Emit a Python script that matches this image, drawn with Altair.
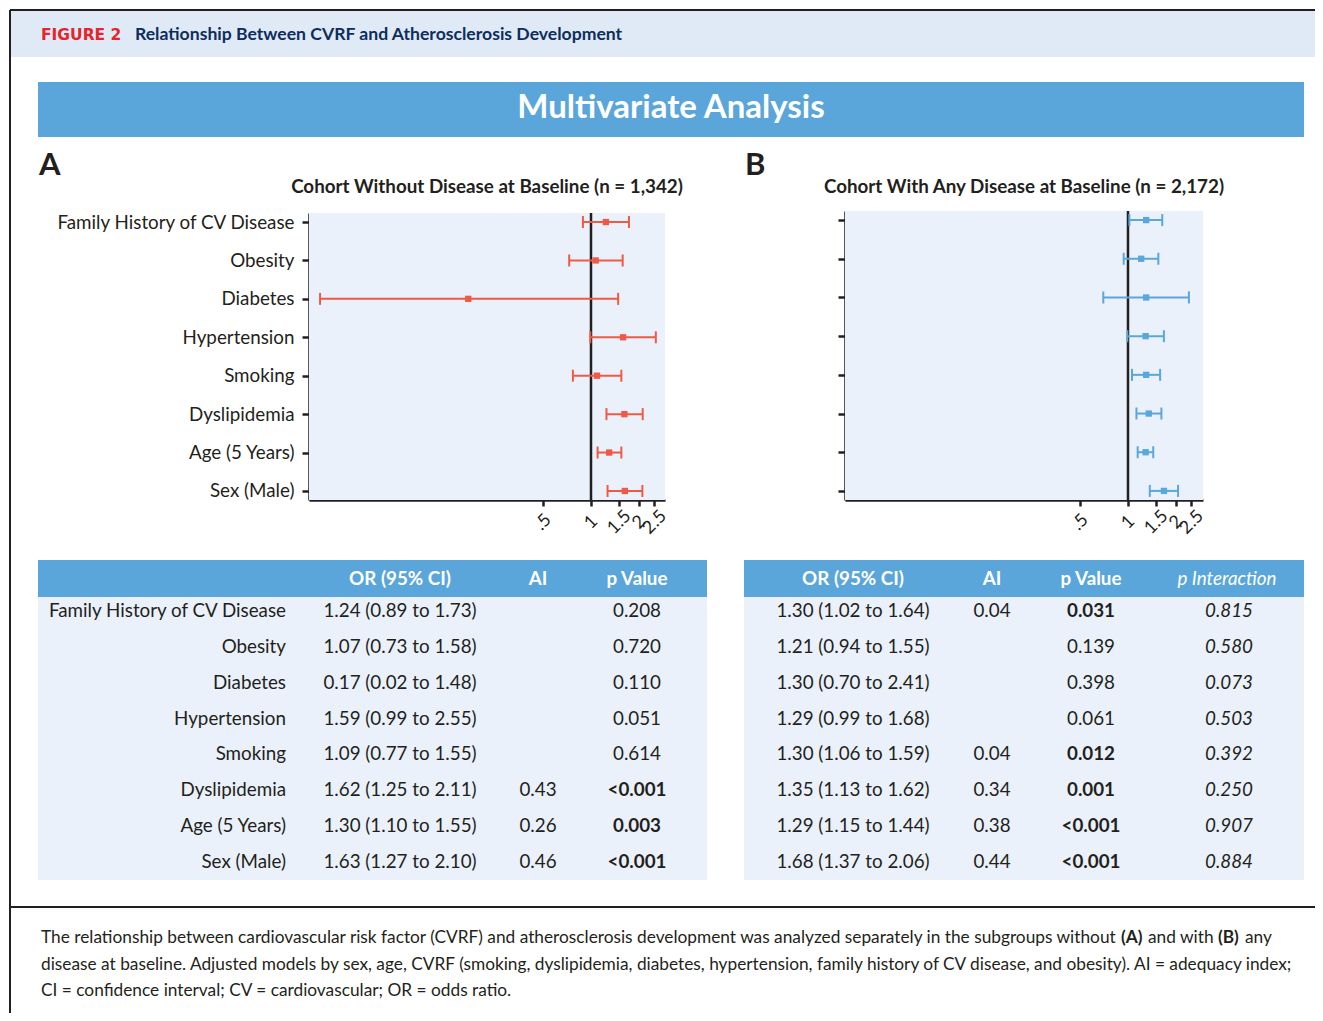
import altair as alt
import pandas as pd

# ---------------- data ----------------
factors = ["Family History of CV Disease", "Obesity", "Diabetes", "Hypertension",
           "Smoking", "Dyslipidemia", "Age (5 Years)", "Sex (Male)"]
or_a = [1.24, 1.07, 0.17, 1.59, 1.09, 1.62, 1.30, 1.63]
lo_a = [0.89, 0.73, 0.02, 0.99, 0.77, 1.25, 1.10, 1.27]
hi_a = [1.73, 1.58, 1.48, 2.55, 1.55, 2.11, 1.55, 2.10]
ai_a = ["", "", "", "", "", "0.43", "0.26", "0.46"]
p_a = ["0.208", "0.720", "0.110", "0.051", "0.614", "<0.001", "0.003", "<0.001"]

or_b = [1.30, 1.21, 1.30, 1.29, 1.30, 1.35, 1.29, 1.68]
lo_b = [1.02, 0.94, 0.70, 0.99, 1.06, 1.13, 1.15, 1.37]
hi_b = [1.64, 1.55, 2.41, 1.68, 1.59, 1.62, 1.44, 2.06]
ai_b = ["0.04", "", "", "", "0.04", "0.34", "0.38", "0.44"]
p_b = ["0.031", "0.139", "0.398", "0.061", "0.012", "0.001", "<0.001", "<0.001"]
pint_b = ["0.815", "0.580", "0.073", "0.503", "0.392", "0.250", "0.907", "0.884"]

x_ticks = [0.5, 1, 1.5, 2, 2.5]
x_tick_labels = [".5", "1", "1.5", "2", "2.5"]

fig_label = "FIGURE 2"
fig_title = "Relationship Between CVRF and Atherosclerosis Development"
banner_title = "Multivariate Analysis"
title_a = "Cohort Without Disease at Baseline (n = 1,342)"
title_b = "Cohort With Any Disease at Baseline (n = 2,172)"
head_a = ["OR (95% CI)", "AI", "p Value"]
head_b = ["OR (95% CI)", "AI", "p Value", "p Interaction"]
caption_l1 = ["The relationship between cardiovascular risk factor (CVRF) and atherosclerosis development was analyzed separately in the subgroups without",
              "(A)", "and with", "(B)", "any"]
caption_l2 = "disease at baseline. Adjusted models by sex, age, CVRF (smoking, dyslipidemia, diabetes, hypertension, family history of CV disease, and obesity). AI = adequacy index;"
caption_l3 = "CI = confidence interval; CV = cardiovascular; OR = odds ratio."

# ---------------- style ----------------
FONT = "Lato"
INK = "#231f20"
NAVY = "#0e2d5d"
FIG_RED = "#e4252b"
BANNER = "#5aa6da"
HEAD_BG = "#dfeaf6"
PLOT_BG = "#eaf1fa"
RED = "#ef5a46"
BLUE = "#5aa7dc"
W, H = 1307, 1005
LBL = 18.8

dummy = pd.DataFrame({"k": [0]})


def rect(x, x2, y, y2, color):
    return alt.Chart(dummy).mark_rect(color=color).encode(
        x=alt.value(x), x2=alt.value(x2), y=alt.value(y), y2=alt.value(y2))


def line(x, x2, y, y2, width=2, color=INK):
    return alt.Chart(dummy).mark_rule(color=color, strokeWidth=width).encode(
        x=alt.value(x), x2=alt.value(x2), y=alt.value(y), y2=alt.value(y2))


def text(s, x, y, size, color=INK, weight="normal", align="left", style="normal", font=FONT):
    return alt.Chart(pd.DataFrame({"t": [s]})).mark_text(
        align=align, baseline="middle", fontSize=size, font=font, fontWeight=weight,
        fontStyle=style, color=color).encode(text="t:N", x=alt.value(x), y=alt.value(y))


label_expr = " : ".join(f"datum.value == {v} ? '{l}'" for v, l in zip(x_ticks, x_tick_labels)) + " : ''"


def forest(lo, orv, hi, color, xdomain, xrange, yrange, show_labels):
    df = pd.DataFrame({"factor": factors, "or": orv, "lo": lo, "hi": hi})
    xs = alt.Scale(type="log", domain=xdomain, range=xrange, nice=False, zero=False)
    ys = alt.Scale(type="point", domain=factors, range=yrange, padding=0.235)
    xaxis = alt.Axis(orient="bottom", offset=yrange[1] - H, values=x_ticks, labelExpr=label_expr,
                     labelAngle=315, labelAlign="center", labelBaseline="middle",
                     labelFontSize=18, labelFont=FONT, labelColor=INK, labelPadding=16,
                     labelOverlap=False, labelFlush=False, tickSize=6, tickWidth=2.5,
                     tickColor=INK, domainWidth=2.5, domainColor=INK, grid=False, title=None)
    yaxis = alt.Axis(orient="left", offset=-xrange[0], labels=show_labels, labelFontSize=LBL,
                     labelFont=FONT, labelColor=INK, labelPadding=8, labelLimit=400,
                     tickSize=7, tickWidth=2.5, tickColor=INK, domainWidth=2.5,
                     domainColor=INK, grid=False, title=None)

    def X(f):
        return alt.X(f, scale=xs, axis=xaxis)

    Y = alt.Y("factor:N", scale=ys, axis=yaxis, sort=factors)
    base = alt.Chart(df)
    bg = alt.Chart(dummy).mark_rect(color=PLOT_BG).encode(
        x=alt.value(xrange[0]), x2=alt.value(xrange[1]),
        y=alt.value(yrange[0]), y2=alt.value(yrange[1]))
    ref = alt.Chart(pd.DataFrame({"lo": [1.0]})).mark_rule(color=INK, strokeWidth=2.5).encode(
        x=X("lo:Q"), y=alt.value(yrange[0]), y2=alt.value(yrange[1]))
    bar = base.mark_rule(color=color, strokeWidth=2).encode(x=X("lo:Q"), x2="hi:Q", y=Y)
    cap_lo = base.mark_tick(color=color, thickness=2, size=12, opacity=1).encode(x=X("lo:Q"), y=Y)
    cap_hi = base.mark_tick(color=color, thickness=2, size=12, opacity=1).encode(x=X("hi:Q"), y=Y)
    pt = base.mark_square(color=color, size=40, opacity=1).encode(x=X("or:Q"), y=Y)
    return alt.layer(bg, ref, bar, cap_lo, cap_hi, pt)


def fmt_or(o, l, h):
    return f"{o:.2f} ({l:.2f} to {h:.2f})"


def is_bold(p):
    return p.startswith("<") or float(p) < 0.05


def table(orv, lo, hi, ai, p, pint, x0, x1, cols, heads, show_factor):
    df = pd.DataFrame({"factor": factors,
                       "ortxt": [fmt_or(o, l, h) for o, l, h in zip(orv, lo, hi)],
                       "ai": ai, "p": p,
                       "bold": [is_bold(v) for v in p],
                       "pint": pint if pint else [""] * len(factors)})
    Y = alt.Y("factor:N", scale=alt.Scale(type="point", domain=factors, range=[603, 854], padding=0),
              axis=None, sort=factors)
    base = alt.Chart(df)
    layers = [rect(x0, x1, 552, 589, BANNER), rect(x0, x1, 589, 872, PLOT_BG)]
    tm = dict(baseline="middle", fontSize=LBL, font=FONT, color=INK)
    if show_factor:
        layers.append(base.mark_text(align="right", **tm).encode(text="factor:N", y=Y, x=alt.value(278)))
    layers.append(base.mark_text(align="center", **tm).encode(text="ortxt:N", y=Y, x=alt.value(cols[0])))
    layers.append(base.mark_text(align="center", **tm).encode(text="ai:N", y=Y, x=alt.value(cols[1])))
    layers.append(base.transform_filter("!datum.bold").mark_text(align="center", **tm).encode(
        text="p:N", y=Y, x=alt.value(cols[2])))
    layers.append(base.transform_filter("datum.bold").mark_text(align="center", fontWeight="bold", **tm).encode(
        text="p:N", y=Y, x=alt.value(cols[2])))
    if pint:
        layers.append(base.mark_text(align="center", fontStyle="italic", **tm).encode(
            text="pint:N", y=Y, x=alt.value(cols[3])))
    for i, h in enumerate(heads):
        italic = h.startswith("p Inter")
        layers.append(text(h, cols[i] - (2 if italic else 0), 571, LBL, color="white",
                           weight="normal" if italic else "bold",
                           style="italic" if italic else "normal", align="center"))
    return alt.layer(*layers)


# ---------------- frame & headings ----------------
frame = [
    rect(2, W, 2, 49, HEAD_BG),
    line(2, W, 2, 2, 2),
    line(2, 2, 2, H, 2),
    line(2, W, 899, 899, 2),
    text(fig_label, 33, 27, 15.5, FIG_RED, "bold", font="DejaVu Sans"),
    text(fig_title, 127, 27, 17.6, NAVY, "bold"),
    rect(30, 1296, 74, 129, BANNER),
    text(banner_title, 663, 100, 33, "white", "bold", "center"),
    text("A", 31, 158, 31, INK, "bold"),
    text("B", 737, 158, 31, INK, "bold"),
    text(title_a, 479, 179, LBL, INK, "bold", "center"),
    text(title_b, 1016, 179, LBL, INK, "bold", "center"),
]

forest_a = forest(lo_a, or_a, hi_a, RED, [0.01705, 2.911], [301, 657], [205, 492], True)
forest_b = forest(lo_b, or_b, hi_b, BLUE, [0.0168, 2.954], [837, 1195], [203, 492], False)

table_a = table(or_a, lo_a, hi_a, ai_a, p_a, None, 30, 699, [392, 530, 629], head_a, True)
table_b = table(or_b, lo_b, hi_b, ai_b, p_b, pint_b, 736, 1296, [845, 984, 1083, 1221], head_b, False)

CAP = 17.3
cap_x = [33, 1113, 1140, 1210, 1237]
cap_w = ["normal", "bold", "normal", "bold", "normal"]
caption = [text(s, x, 930, CAP, INK, w) for s, x, w in zip(caption_l1, cap_x, cap_w)]
caption += [text(caption_l2, 33, 957, CAP), text(caption_l3, 33, 983, CAP)]

chart = alt.layer(*frame, forest_a, forest_b, table_a, table_b, *caption).resolve_scale(
    x="independent", y="independent"
).properties(
    width=W, height=H, autosize=alt.AutoSizeParams(type="none"), padding=0
).configure_view(stroke=None).configure_axis(grid=False)

chart.save("out.html", embed_options={"renderer": "svg", "actions": False})
